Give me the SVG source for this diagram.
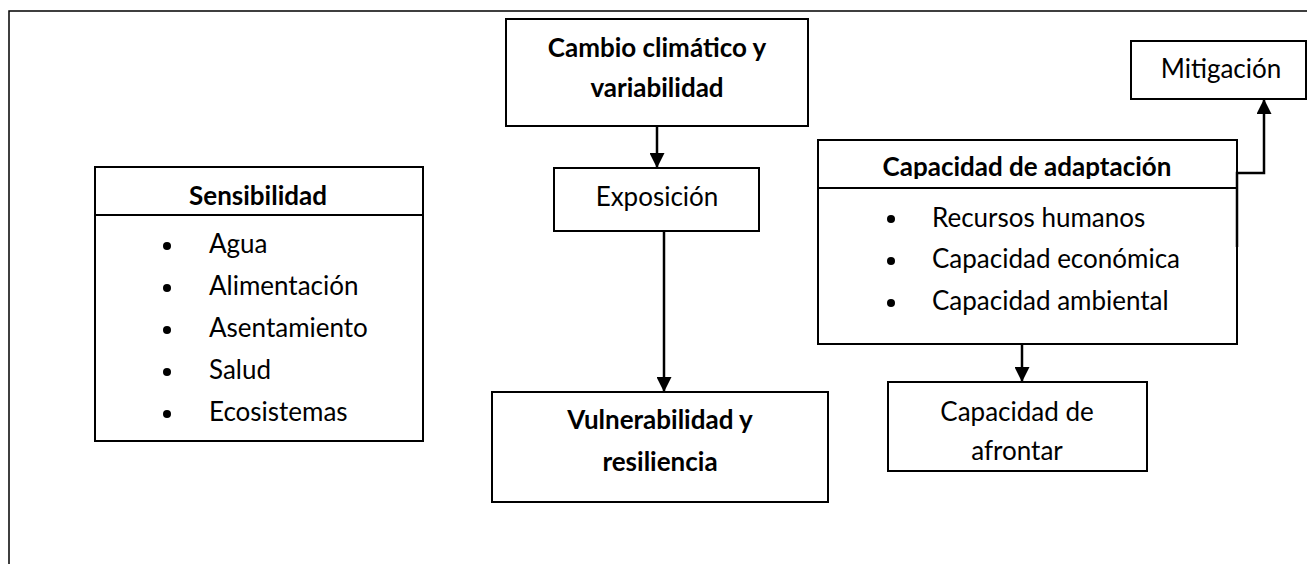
<svg xmlns="http://www.w3.org/2000/svg" width="1307" height="564" viewBox="0 0 1307 564">
<style>
  .box{fill:#fff;stroke:#000;stroke-width:2}
  .frame{fill:none;stroke:#000;stroke-width:1.5}
  .t{font-family:Lato,"Open Sans",sans-serif;font-size:26px;fill:#000}
  .b{font-weight:bold}
  .m{text-anchor:middle}
  .conn{fill:none;stroke:#000;stroke-width:2.5}
</style>
<defs>
  <marker id="ah" markerUnits="userSpaceOnUse" markerWidth="15" markerHeight="15" refX="15" refY="7.5" orient="auto">
    <path d="M0,0 L15,7.5 L0,15 z" fill="#000"/>
  </marker>
  <clipPath id="capclip"><rect x="818" y="140" width="419" height="39"/></clipPath>
</defs>
<rect width="1307" height="564" fill="#fff"/>
<path class="frame" d="M9,564 L9,11 L1307,11"/>

<g id="sensibilidad">
  <rect class="box" x="95" y="167" width="328" height="274"/>
  <line x1="95" y1="215" x2="423" y2="215" stroke="#000" stroke-width="2"/>
  <text class="t b m" x="258" y="205">Sensibilidad</text>
  <g fill="#000">
    <circle cx="167" cy="246" r="4"/><circle cx="167" cy="288" r="4"/><circle cx="167" cy="330" r="4"/><circle cx="167" cy="372" r="4"/><circle cx="167" cy="414" r="4"/>
  </g>
  <text class="t" x="209" y="253">Agua</text>
  <text class="t" x="209" y="295">Alimentación</text>
  <text class="t" x="209" y="337">Asentamiento</text>
  <text class="t" x="209" y="379">Salud</text>
  <text class="t" x="209" y="421">Ecosistemas</text>
</g>

<g id="cambio">
  <rect class="box" x="506" y="19" width="302" height="107"/>
  <text class="t b m" x="657" y="57">Cambio climático y</text>
  <text class="t b m" x="657" y="97">variabilidad</text>
</g>

<g id="exposicion">
  <rect class="box" x="554" y="168" width="205" height="63"/>
  <text class="t m" x="657" y="206">Exposición</text>
</g>

<g id="vulnerabilidad">
  <rect class="box" x="492" y="392" width="336" height="110"/>
  <text class="t b m" x="660" y="429">Vulnerabilidad y</text>
  <text class="t b m" x="660" y="471">resiliencia</text>
</g>

<g id="adaptacion">
  <rect class="box" x="818" y="140" width="419" height="204"/>
  <line x1="818" y1="188" x2="1237" y2="188" stroke="#000" stroke-width="2"/>
  <text class="t b m" x="1027" y="176" clip-path="url(#capclip)">Capacidad de adaptación</text>
  <g fill="#000">
    <circle cx="891" cy="219" r="4"/><circle cx="891" cy="261" r="4"/><circle cx="891" cy="303" r="4"/>
  </g>
  <text class="t" x="932" y="227">Recursos humanos</text>
  <text class="t" x="932" y="268">Capacidad económica</text>
  <text class="t" x="932" y="310">Capacidad ambiental</text>
</g>

<g id="mitigacion">
  <rect class="box" x="1131" y="41" width="175" height="58"/>
  <text class="t m" x="1221" y="78">Mitigación</text>
</g>

<g id="afrontar">
  <rect class="box" x="888" y="382" width="259" height="89"/>
  <text class="t m" x="1017" y="421">Capacidad de</text>
  <text class="t m" x="1017" y="460">afrontar</text>
</g>

<g id="connectors">
  <path class="conn" d="M657,126 L657,168" marker-end="url(#ah)"/>
  <path class="conn" d="M664,231 L664,392" marker-end="url(#ah)"/>
  <path class="conn" d="M1022,344 L1022,382" marker-end="url(#ah)"/>
  <path class="conn" d="M1237,247 L1237,173 L1264,173 L1264,99" marker-end="url(#ah)"/>
</g>
</svg>
